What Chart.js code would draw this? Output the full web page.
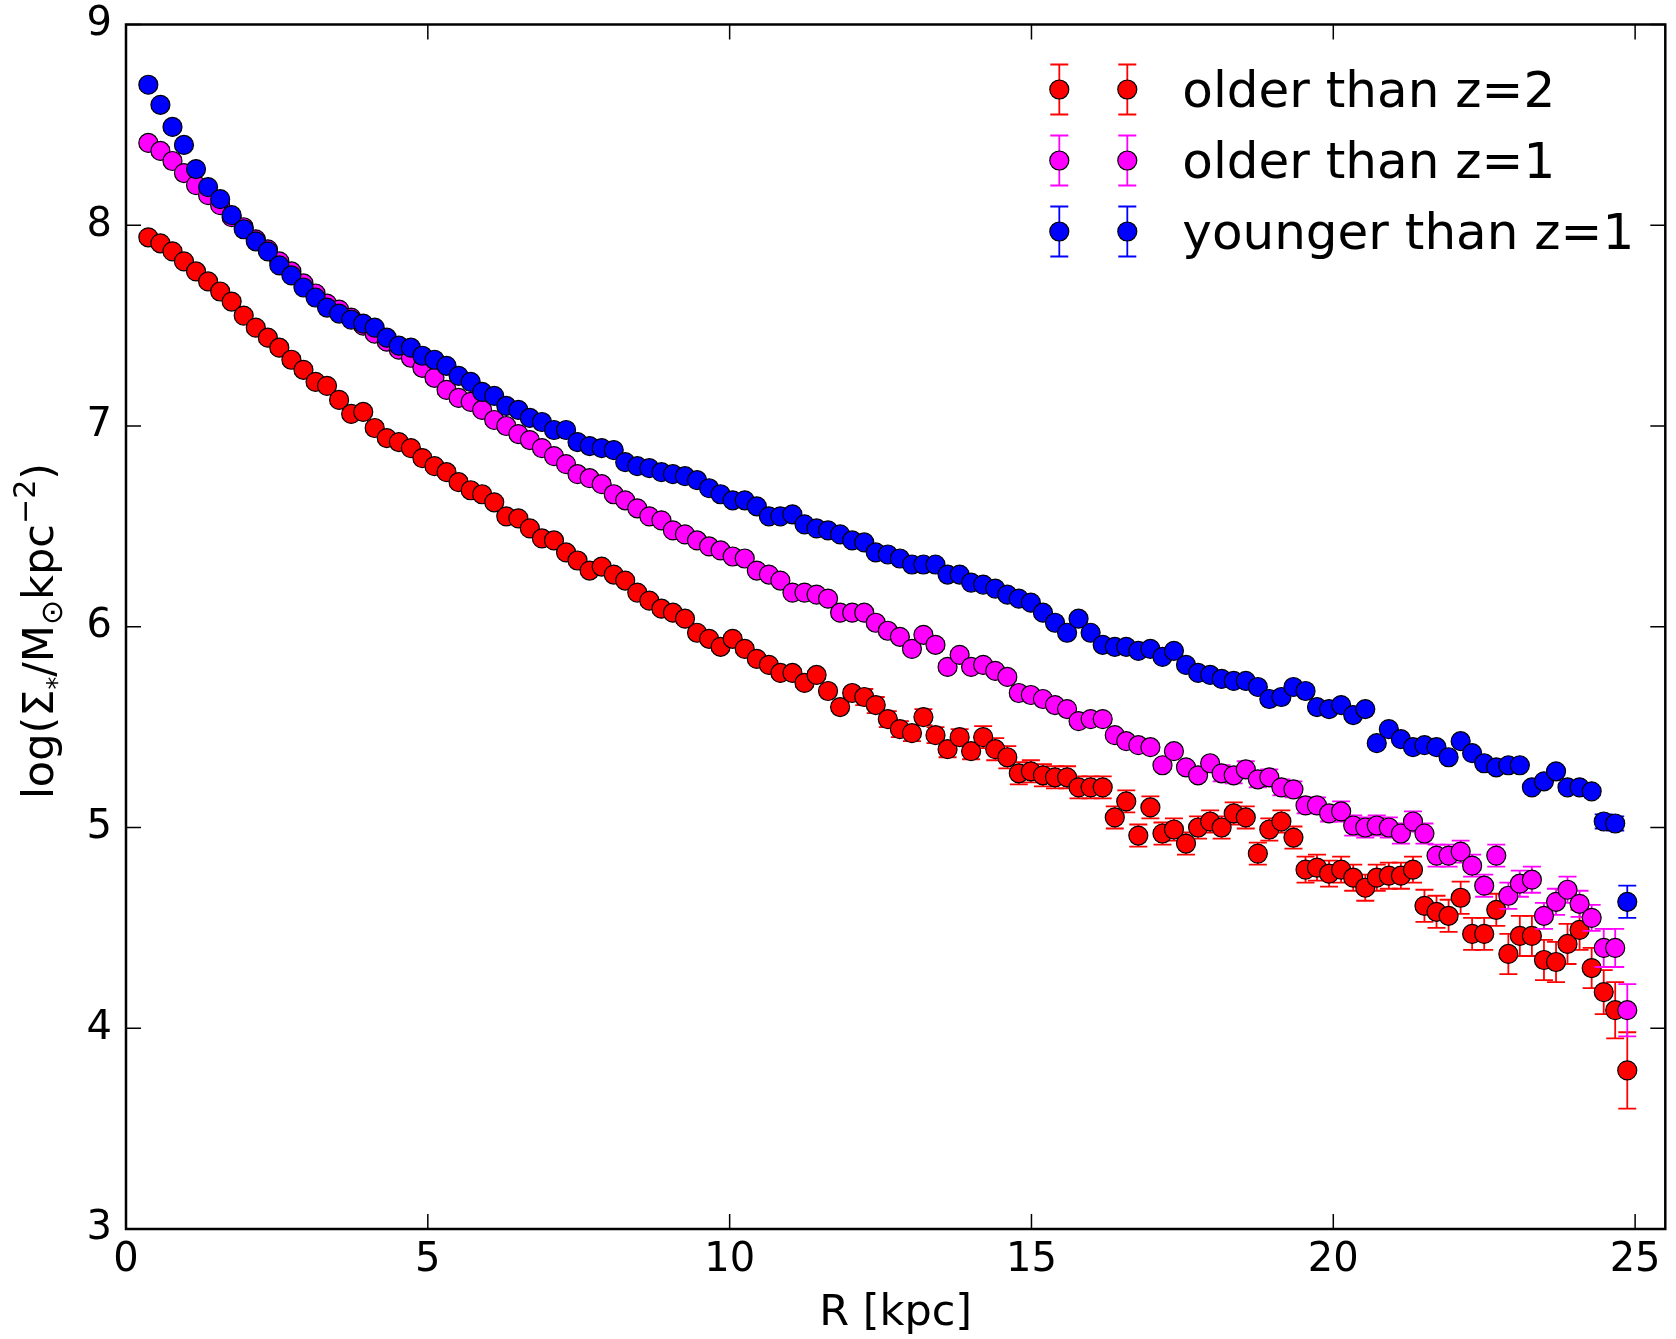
<!DOCTYPE html>
<html>
<head>
<meta charset="utf-8">
<script src="https://cdn.jsdelivr.net/npm/chart.js@4.4.0/dist/chart.umd.min.js"></script>
<style>
  body { margin: 0; background: #fff; }
</style>
</head>
<body>
<canvas id="chart" width="1676" height="1339"></canvas>
<script>
// radial bins, kpc
const radius = [
  0.37, 0.57, 0.77, 0.96, 1.16, 1.36, 1.56, 1.75, 1.95, 2.15,
  2.35, 2.54, 2.74, 2.94, 3.14, 3.33, 3.53, 3.73, 3.93, 4.12,
  4.32, 4.52, 4.72, 4.91, 5.11, 5.31, 5.51, 5.71, 5.90, 6.10,
  6.30, 6.50, 6.69, 6.89, 7.09, 7.29, 7.48, 7.68, 7.88, 8.08,
  8.27, 8.47, 8.67, 8.87, 9.06, 9.26, 9.46, 9.66, 9.85, 10.05,
  10.25, 10.45, 10.65, 10.84, 11.04, 11.24, 11.44, 11.63, 11.83, 12.03,
  12.23, 12.42, 12.62, 12.82, 13.02, 13.21, 13.41, 13.61, 13.81, 14.00,
  14.20, 14.40, 14.60, 14.79, 14.99, 15.19, 15.39, 15.59, 15.78, 15.98,
  16.18, 16.38, 16.57, 16.77, 16.97, 17.17, 17.36, 17.56, 17.76, 17.96,
  18.15, 18.35, 18.55, 18.75, 18.94, 19.14, 19.34, 19.54, 19.73, 19.93,
  20.13, 20.33, 20.53, 20.72, 20.92, 21.12, 21.32, 21.51, 21.71, 21.91,
  22.11, 22.30, 22.50, 22.70, 22.90, 23.09, 23.29, 23.49, 23.69, 23.88,
  24.08, 24.28, 24.48, 24.67, 24.87
];

// log surface density, older than z=2
const olderZ2 = [
  7.94, 7.91, 7.87, 7.82, 7.77, 7.72, 7.67, 7.62, 7.55, 7.49,
  7.44, 7.39, 7.33, 7.28, 7.22, 7.20, 7.13, 7.06, 7.07, 6.99,
  6.94, 6.92, 6.89, 6.84, 6.80, 6.77, 6.72, 6.68, 6.66, 6.62,
  6.55, 6.54, 6.49, 6.44, 6.43, 6.37, 6.33, 6.28, 6.30, 6.26,
  6.23, 6.17, 6.13, 6.09, 6.07, 6.04, 5.97, 5.94, 5.90, 5.94,
  5.89, 5.84, 5.81, 5.77, 5.77, 5.72, 5.76, 5.68, 5.60, 5.67,
  5.65, 5.61, 5.54, 5.49, 5.47, 5.55, 5.46, 5.39, 5.45, 5.38,
  5.45, 5.39, 5.35, 5.27, 5.28, 5.26, 5.25, 5.25, 5.20, 5.20,
  5.20, 5.05, 5.13, 4.96, 5.10, 4.97, 4.99, 4.92, 5.00, 5.03,
  5.00, 5.07, 5.05, 4.87, 4.99, 5.03, 4.95, 4.79, 4.80, 4.77,
  4.79, 4.75, 4.70, 4.75, 4.76, 4.76, 4.79, 4.61, 4.58, 4.56,
  4.65, 4.47, 4.47, 4.59, 4.37, 4.46, 4.46, 4.34, 4.33, 4.42,
  4.49, 4.30, 4.18, 4.09, 3.79
];
const olderZ2Err = [
  0.02, 0.02, 0.02, 0.02, 0.02, 0.02, 0.02, 0.02, 0.02, 0.02,
  0.02, 0.02, 0.02, 0.02, 0.02, 0.02, 0.02, 0.02, 0.02, 0.02,
  0.02, 0.02, 0.02, 0.02, 0.02, 0.02, 0.02, 0.02, 0.02, 0.02,
  0.02, 0.02, 0.02, 0.02, 0.02, 0.02, 0.02, 0.02, 0.02, 0.02,
  0.02, 0.02, 0.02, 0.02, 0.02, 0.02, 0.02, 0.02, 0.02, 0.02,
  0.02, 0.02, 0.02, 0.02, 0.02, 0.02, 0.02, 0.02, 0.02, 0.02,
  0.04, 0.04, 0.04, 0.04, 0.04, 0.04, 0.04, 0.04, 0.04, 0.04,
  0.055, 0.055, 0.055, 0.055, 0.055, 0.055, 0.055, 0.055, 0.055, 0.055,
  0.055, 0.055, 0.055, 0.055, 0.055, 0.055, 0.055, 0.055, 0.055, 0.055,
  0.055, 0.055, 0.055, 0.055, 0.055, 0.055, 0.055, 0.065, 0.065, 0.065,
  0.065, 0.065, 0.065, 0.065, 0.065, 0.065, 0.065, 0.08, 0.08, 0.08,
  0.08, 0.08, 0.08, 0.08, 0.10, 0.10, 0.10, 0.10, 0.10, 0.10,
  0.10, 0.10, 0.11, 0.14, 0.19
];

// older than z=1
const olderZ1 = [
  8.41, 8.37, 8.32, 8.26, 8.20, 8.15, 8.10, 8.04, 7.99, 7.93,
  7.88, 7.82, 7.77, 7.71, 7.66, 7.61, 7.58, 7.54, 7.50, 7.46,
  7.42, 7.38, 7.34, 7.29, 7.24, 7.18, 7.14, 7.12, 7.08, 7.03,
  7.00, 6.96, 6.93, 6.89, 6.85, 6.81, 6.76, 6.74, 6.71, 6.66,
  6.63, 6.59, 6.55, 6.53, 6.48, 6.46, 6.43, 6.40, 6.38, 6.35,
  6.34, 6.28, 6.26, 6.23, 6.17, 6.17, 6.16, 6.14, 6.07, 6.07,
  6.07, 6.02, 5.98, 5.95, 5.89, 5.96, 5.91, 5.80, 5.86, 5.80,
  5.81, 5.78, 5.75, 5.67, 5.66, 5.64, 5.61, 5.59, 5.53, 5.54,
  5.54, 5.46, 5.43, 5.41, 5.40, 5.31, 5.38, 5.30, 5.26, 5.32,
  5.27, 5.26, 5.29, 5.24, 5.25, 5.20, 5.19, 5.11, 5.11, 5.07,
  5.08, 5.01, 5.00, 5.01, 5.00, 4.97, 5.03, 4.97, 4.86, 4.86,
  4.88, 4.81, 4.71, 4.86, 4.66, 4.72, 4.74, 4.56, 4.63, 4.69,
  4.62, 4.55, 4.40, 4.40, 4.09
];
const olderZ1Err = [
  0.02, 0.02, 0.02, 0.02, 0.02, 0.02, 0.02, 0.02, 0.02, 0.02,
  0.02, 0.02, 0.02, 0.02, 0.02, 0.02, 0.02, 0.02, 0.02, 0.02,
  0.02, 0.02, 0.02, 0.02, 0.02, 0.02, 0.02, 0.02, 0.02, 0.02,
  0.02, 0.02, 0.02, 0.02, 0.02, 0.02, 0.02, 0.02, 0.02, 0.02,
  0.02, 0.02, 0.02, 0.02, 0.02, 0.02, 0.02, 0.02, 0.02, 0.02,
  0.02, 0.02, 0.02, 0.02, 0.02, 0.02, 0.02, 0.02, 0.02, 0.02,
  0.02, 0.02, 0.02, 0.02, 0.02, 0.02, 0.02, 0.02, 0.02, 0.02,
  0.02, 0.02, 0.02, 0.02, 0.02, 0.02, 0.02, 0.02, 0.02, 0.02,
  0.02, 0.02, 0.02, 0.02, 0.02, 0.02, 0.02, 0.02, 0.02, 0.02,
  0.04, 0.04, 0.04, 0.04, 0.04, 0.04, 0.04, 0.04, 0.04, 0.04,
  0.05, 0.05, 0.05, 0.05, 0.05, 0.05, 0.05, 0.05, 0.055, 0.055,
  0.055, 0.055, 0.055, 0.055, 0.065, 0.065, 0.065, 0.065, 0.065, 0.065,
  0.065, 0.065, 0.095, 0.095, 0.13
];

// younger than z=1
const youngerZ1 = [
  8.70, 8.60, 8.49, 8.40, 8.28, 8.19, 8.13, 8.05, 7.98, 7.92,
  7.87, 7.80, 7.75, 7.69, 7.64, 7.59, 7.56, 7.53, 7.51, 7.49,
  7.44, 7.40, 7.39, 7.35, 7.33, 7.30, 7.25, 7.22, 7.17, 7.15,
  7.10, 7.08, 7.04, 7.02, 6.98, 6.98, 6.92, 6.90, 6.89, 6.88,
  6.82, 6.80, 6.79, 6.77, 6.76, 6.75, 6.73, 6.69, 6.66, 6.63,
  6.63, 6.60, 6.55, 6.55, 6.56, 6.51, 6.49, 6.48, 6.46, 6.43,
  6.42, 6.37, 6.36, 6.34, 6.31, 6.31, 6.31, 6.26, 6.26, 6.22,
  6.21, 6.19, 6.16, 6.14, 6.12, 6.07, 6.02, 5.97, 6.04, 5.97,
  5.91, 5.90, 5.90, 5.88, 5.89, 5.85, 5.88, 5.81, 5.77, 5.76,
  5.74, 5.73, 5.73, 5.70, 5.64, 5.65, 5.70, 5.68, 5.60, 5.59,
  5.61, 5.56, 5.59, 5.42, 5.49, 5.44, 5.40, 5.41, 5.40, 5.35,
  5.43, 5.37, 5.32, 5.30, 5.31, 5.31, 5.20, 5.23, 5.28, 5.20,
  5.20, 5.18, 5.03, 5.02, 4.63
];
const youngerZ1Err = [
  0.01, 0.01, 0.01, 0.01, 0.01, 0.01, 0.01, 0.01, 0.01, 0.01,
  0.01, 0.01, 0.01, 0.01, 0.01, 0.01, 0.01, 0.01, 0.01, 0.01,
  0.01, 0.01, 0.01, 0.01, 0.01, 0.01, 0.01, 0.01, 0.01, 0.01,
  0.01, 0.01, 0.01, 0.01, 0.01, 0.01, 0.01, 0.01, 0.01, 0.01,
  0.01, 0.01, 0.01, 0.01, 0.01, 0.01, 0.01, 0.01, 0.01, 0.01,
  0.01, 0.01, 0.01, 0.01, 0.01, 0.01, 0.01, 0.01, 0.01, 0.01,
  0.01, 0.01, 0.01, 0.01, 0.01, 0.01, 0.01, 0.01, 0.01, 0.01,
  0.01, 0.01, 0.01, 0.01, 0.01, 0.01, 0.01, 0.01, 0.01, 0.01,
  0.01, 0.01, 0.01, 0.01, 0.01, 0.01, 0.01, 0.01, 0.01, 0.01,
  0.01, 0.01, 0.01, 0.01, 0.01, 0.01, 0.01, 0.01, 0.01, 0.01,
  0.01, 0.01, 0.01, 0.01, 0.01, 0.01, 0.01, 0.01, 0.01, 0.01,
  0.01, 0.01, 0.01, 0.01, 0.01, 0.01, 0.02, 0.02, 0.02, 0.02,
  0.02, 0.02, 0.035, 0.035, 0.08
];

const seriesLabels = ['older than z=2', 'older than z=1', 'younger than z=1'];
const seriesColors = ['#ff0000', '#ff00ff', '#0000ff'];

const FONT = "'DejaVu Sans', 'Liberation Sans', sans-serif";
const CAP = 9;

function toPoints(values) {
  return radius.map((r, i) => ({ x: r, y: values[i] }));
}

function makeSet(i, values, errors) {
  return {
    label: seriesLabels[i],
    data: toPoints(values),
    errors: errors,
    backgroundColor: seriesColors[i],
    borderColor: '#000',
    pointBackgroundColor: seriesColors[i],
    pointBorderColor: '#000',
    pointBorderWidth: 1.2,
    pointRadius: 9.5,
    showLine: false,
    order: 3 - i
  };
}

function drawErrorBar(ctx, x, yTop, yBot) {
  ctx.beginPath();
  ctx.moveTo(x, yTop);
  ctx.lineTo(x, yBot);
  ctx.moveTo(x - CAP, yTop);
  ctx.lineTo(x + CAP, yTop);
  ctx.moveTo(x - CAP, yBot);
  ctx.lineTo(x + CAP, yBot);
  ctx.stroke();
}

function drawMarker(ctx, x, y, color) {
  ctx.beginPath();
  ctx.arc(x, y, 9.5, 0, Math.PI * 2);
  ctx.fillStyle = color;
  ctx.fill();
  ctx.lineWidth = 1.2;
  ctx.strokeStyle = '#000';
  ctx.stroke();
}

// y label with sub/superscripts, drawn rotated
function drawYTitle(ctx, baseX, centerY) {
  const size = 43;
  const parts = [
    { t: 'log(\u03a3', s: 1, dy: 0 },
    { t: '*', s: 0.6, dy: 0.3 },
    { t: '/M', s: 1, dy: 0 },
    { t: '\u2299', s: 0.7, dy: 0.2 },
    { t: 'kpc', s: 1, dy: 0 },
    { t: '\u22122', s: 0.7, dy: -0.42 },
    { t: ')', s: 1, dy: 0 }
  ];
  ctx.save();
  let total = 0;
  parts.forEach(p => {
    ctx.font = (size * p.s) + 'px ' + FONT;
    p.w = ctx.measureText(p.t).width;
    total += p.w;
  });
  ctx.translate(baseX, centerY);
  ctx.rotate(-Math.PI / 2);
  ctx.fillStyle = '#000';
  ctx.textBaseline = 'alphabetic';
  ctx.textAlign = 'left';
  let x = -total / 2;
  parts.forEach(p => {
    ctx.font = (size * p.s) + 'px ' + FONT;
    ctx.fillText(p.t, x, p.dy * size);
    x += p.w;
  });
  ctx.restore();
}

// keep the plot box where the figure puts it
function fixBox(size) {
  return (s) => {
    if (s.isHorizontal()) s.height = size; else s.width = size;
    s.paddingTop = 0;
    s.paddingBottom = 0;
    s.paddingLeft = 0;
    s.paddingRight = 0;
  };
}

const frame = {
  id: 'frame',
  beforeDatasetDraw(chart, args) {
    const ds = chart.data.datasets[args.index];
    const yScale = chart.scales.y;
    const a = chart.chartArea;
    const ctx = chart.ctx;
    ctx.save();
    ctx.beginPath();
    ctx.rect(a.left, a.top, a.right - a.left, a.bottom - a.top);
    ctx.clip();
    ctx.strokeStyle = ds.backgroundColor;
    ctx.lineWidth = 1.8;
    args.meta.data.forEach((pt, i) => {
      const v = ds.data[i].y;
      const e = ds.errors[i];
      drawErrorBar(ctx, pt.x, yScale.getPixelForValue(v + e), yScale.getPixelForValue(v - e));
    });
    ctx.restore();
  },
  afterDraw(chart) {
    const ctx = chart.ctx;
    const a = chart.chartArea;
    const xs = chart.scales.x;
    const ys = chart.scales.y;
    ctx.save();

    // inward ticks on all four sides
    ctx.strokeStyle = '#000';
    ctx.lineWidth = 1.5;
    ctx.beginPath();
    xs.ticks.forEach(t => {
      const px = xs.getPixelForValue(t.value);
      ctx.moveTo(px, a.bottom); ctx.lineTo(px, a.bottom - 15);
      ctx.moveTo(px, a.top); ctx.lineTo(px, a.top + 15);
    });
    ys.ticks.forEach(t => {
      const py = ys.getPixelForValue(t.value);
      ctx.moveTo(a.left, py); ctx.lineTo(a.left + 15, py);
      ctx.moveTo(a.right, py); ctx.lineTo(a.right - 15, py);
    });
    ctx.stroke();

    // spines
    ctx.lineWidth = 2.5;
    ctx.strokeRect(a.left, a.top, a.right - a.left, a.bottom - a.top);

    // axis titles
    ctx.fillStyle = '#000';
    ctx.font = '43px ' + FONT;
    ctx.textAlign = 'center';
    ctx.textBaseline = 'alphabetic';
    ctx.fillText('R [kpc]', (a.left + a.right) / 2, 1325);
    drawYTitle(ctx, 53, 631);

    // legend
    const m1 = a.right - 606, m2 = a.right - 538, tx = a.right - 483;
    chart.data.datasets.forEach((ds, i) => {
      const cy = a.top + 65 + 71 * i;
      [m1, m2].forEach(mx => {
        ctx.strokeStyle = ds.backgroundColor;
        ctx.lineWidth = 1.8;
        drawErrorBar(ctx, mx, cy - 25, cy + 25);
        drawMarker(ctx, mx, cy, ds.backgroundColor);
      });
      ctx.fillStyle = '#000';
      ctx.font = '50px ' + FONT;
      ctx.textAlign = 'left';
      ctx.textBaseline = 'alphabetic';
      ctx.fillText(ds.label, tx, cy + 17);
    });
    ctx.restore();
  }
};

new Chart(document.getElementById('chart').getContext('2d'), {
  type: 'scatter',
  data: {
    datasets: [
      makeSet(0, olderZ2, olderZ2Err),
      makeSet(1, olderZ1, olderZ1Err),
      makeSet(2, youngerZ1, youngerZ1Err)
    ]
  },
  options: {
    responsive: false,
    animation: false,
    events: [],
    layout: { padding: { top: 24.5, right: 5, left: 0, bottom: 0 } },
    plugins: {
      legend: { display: false },
      tooltip: { enabled: false }
    },
    scales: {
      x: {
        type: 'linear',
        min: 0,
        max: 25.5,
        afterFit: fixBox(110),
        grid: { display: false, drawTicks: false },
        border: { display: false },
        ticks: {
          stepSize: 5,
          includeBounds: false,
          padding: 8,
          color: '#000',
          font: { family: FONT, size: 40 }
        }
      },
      y: {
        type: 'linear',
        min: 3,
        max: 9,
        afterFit: fixBox(126),
        grid: { display: false, drawTicks: false },
        border: { display: false },
        ticks: {
          stepSize: 1,
          includeBounds: false,
          padding: 14,
          color: '#000',
          font: { family: FONT, size: 40 }
        }
      }
    }
  },
  plugins: [frame]
});
</script>
</body>
</html>
